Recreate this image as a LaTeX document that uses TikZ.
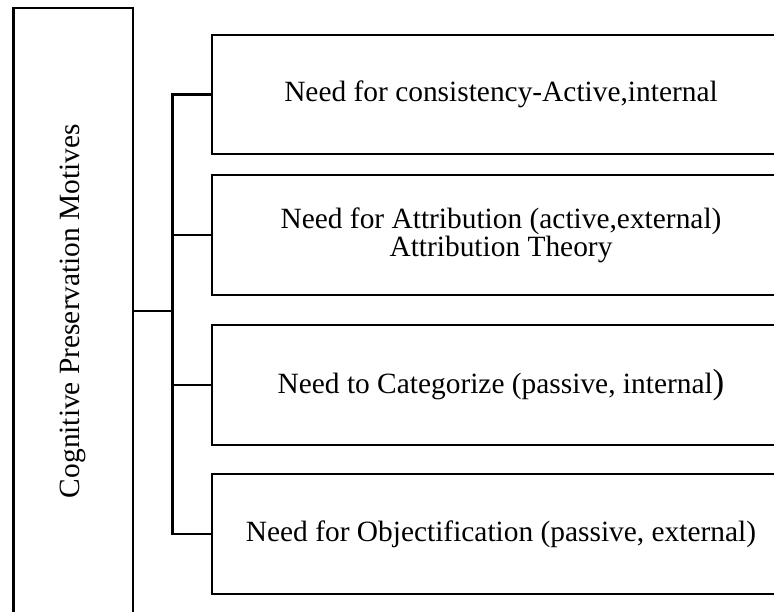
\documentclass[tikz,border=0pt]{standalone}
\usepackage{fontspec}
\setmainfont{Liberation Serif}
\begin{document}
\begin{tikzpicture}[x=1pt,y=1pt,
  every node/.style={font=\fontsize{29.4}{26}\selectfont},
  frame/.style={draw, line width=2.2pt, inner sep=0pt, outer sep=0pt},
  itembox/.style={frame, minimum width=578pt, minimum height=119pt, align=center, anchor=west},
  link/.style={draw, line width=2.2pt}]
\useasboundingbox (0,0) rectangle (774,-611);
\node[frame, minimum width=606pt, minimum height=119.5pt, rotate=90] (L) at (73.25,-311) {Cognitive Preservation Motives};
\node[itembox] (b1) at (212,-94.5) {Need for consistency-Active,internal};
\node[itembox, minimum height=120pt] (b2) at (212,-235) {Need for Attribution (active,external)\\Attribution Theory};
\node[itembox, minimum height=120pt] (b3) at (212,-385) {Need to Categorize (passive, internal{\fontsize{35}{26}\selectfont)}};
\node[itembox, minimum height=120pt] (b4) at (212,-534) {Need for Objectification (passive, external)};
\coordinate (J) at (172.5,-311);
\draw[link] (L.south) -- (J);
\draw[link] (b1.west) -| (J);
\draw[link] (b2.west) -| (J);
\draw[link] (b3.west) -| (J);
\draw[link] (b4.west) -| (J);
\end{tikzpicture}
\end{document}
